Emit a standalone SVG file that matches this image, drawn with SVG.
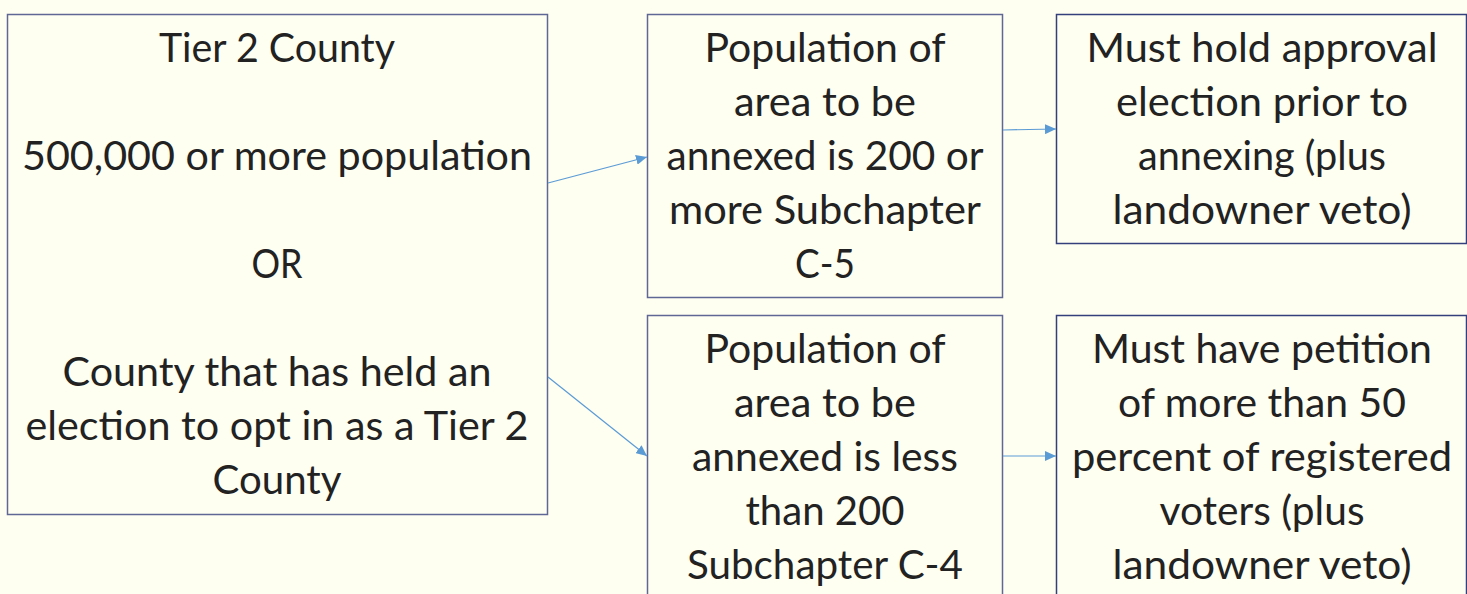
<svg xmlns="http://www.w3.org/2000/svg" width="1467" height="594" viewBox="0 0 1467 594">
<style>
.box{fill:#FEFEF1;stroke:#5F6894;stroke-width:1.5}
.box2{fill:#FEFEF1;stroke:#34407C;stroke-width:1.5}
text{font-family:Lato,"Open Sans","Liberation Sans",sans-serif;font-size:40px;fill:#222222;text-anchor:middle}
.conn{stroke:#5B9BD5;stroke-width:1.2;fill:none;marker-end:url(#ah)}
</style>
<defs>
<marker id="ah" markerUnits="userSpaceOnUse" markerWidth="12" markerHeight="10" refX="11" refY="5" orient="auto">
<path d="M0,0 L11,5 L0,10 Z" fill="#5B9BD5"/>
</marker>
</defs>
<rect x="0" y="0" width="1467" height="594" fill="#FEFEF1"/>
<g id="tier2">
<rect class="box" x="7.5" y="14.5" width="540" height="500"/>
<text x="277" y="62" textLength="236" lengthAdjust="spacingAndGlyphs">Tier 2 County</text>
<text x="277" y="170" textLength="510" lengthAdjust="spacingAndGlyphs">500,000 or more population</text>
<text x="277" y="278" textLength="51" lengthAdjust="spacingAndGlyphs">OR</text>
<text x="277" y="386" textLength="429" lengthAdjust="spacingAndGlyphs">County that has held an</text>
<text x="277" y="440" textLength="503" lengthAdjust="spacingAndGlyphs">election to opt in as a Tier 2</text>
<text x="277" y="494" textLength="129" lengthAdjust="spacingAndGlyphs">County</text>
</g>
<g id="c5">
<rect class="box" x="647.5" y="14.5" width="355" height="283"/>
<text x="825" y="62" textLength="241" lengthAdjust="spacingAndGlyphs">Population of</text>
<text x="825" y="116" textLength="182" lengthAdjust="spacingAndGlyphs">area to be</text>
<text x="825" y="170" textLength="317" lengthAdjust="spacingAndGlyphs">annexed is 200 or</text>
<text x="825" y="224" textLength="312" lengthAdjust="spacingAndGlyphs">more Subchapter</text>
<text x="825" y="278" textLength="60" lengthAdjust="spacingAndGlyphs">C-5</text>
</g>
<g id="c4">
<rect class="box" x="647.5" y="315.5" width="355" height="300"/>
<text x="825" y="363" textLength="241" lengthAdjust="spacingAndGlyphs">Population of</text>
<text x="825" y="417" textLength="182" lengthAdjust="spacingAndGlyphs">area to be</text>
<text x="825" y="471" textLength="266" lengthAdjust="spacingAndGlyphs">annexed is less</text>
<text x="825" y="525" textLength="159" lengthAdjust="spacingAndGlyphs">than 200</text>
<text x="825" y="579" textLength="276" lengthAdjust="spacingAndGlyphs">Subchapter C-4</text>
</g>
<g id="election">
<rect class="box2" x="1056.5" y="14.5" width="410" height="229"/>
<text x="1262" y="62" textLength="351" lengthAdjust="spacingAndGlyphs">Must hold approval</text>
<text x="1262" y="116" textLength="292" lengthAdjust="spacingAndGlyphs">election prior to</text>
<text x="1262" y="170" textLength="248" lengthAdjust="spacingAndGlyphs">annexing (plus</text>
<text x="1262" y="224" textLength="299" lengthAdjust="spacingAndGlyphs">landowner veto)</text>
</g>
<g id="petition">
<rect class="box2" x="1056.5" y="315.5" width="410" height="300"/>
<text x="1262" y="363" textLength="340" lengthAdjust="spacingAndGlyphs">Must have petition</text>
<text x="1262" y="417" textLength="288" lengthAdjust="spacingAndGlyphs">of more than 50</text>
<text x="1262" y="471" textLength="380" lengthAdjust="spacingAndGlyphs">percent of registered</text>
<text x="1262" y="525" textLength="205" lengthAdjust="spacingAndGlyphs">voters (plus</text>
<text x="1262" y="579" textLength="299" lengthAdjust="spacingAndGlyphs">landowner veto)</text>
</g>
<g id="connectors">
<line class="conn" x1="548" y1="183" x2="647" y2="157"/>
<line class="conn" x1="548" y1="377" x2="647" y2="456"/>
<line class="conn" x1="1003" y1="130" x2="1056" y2="129"/>
<line class="conn" x1="1003" y1="456" x2="1056" y2="456"/>
</g>
</svg>
